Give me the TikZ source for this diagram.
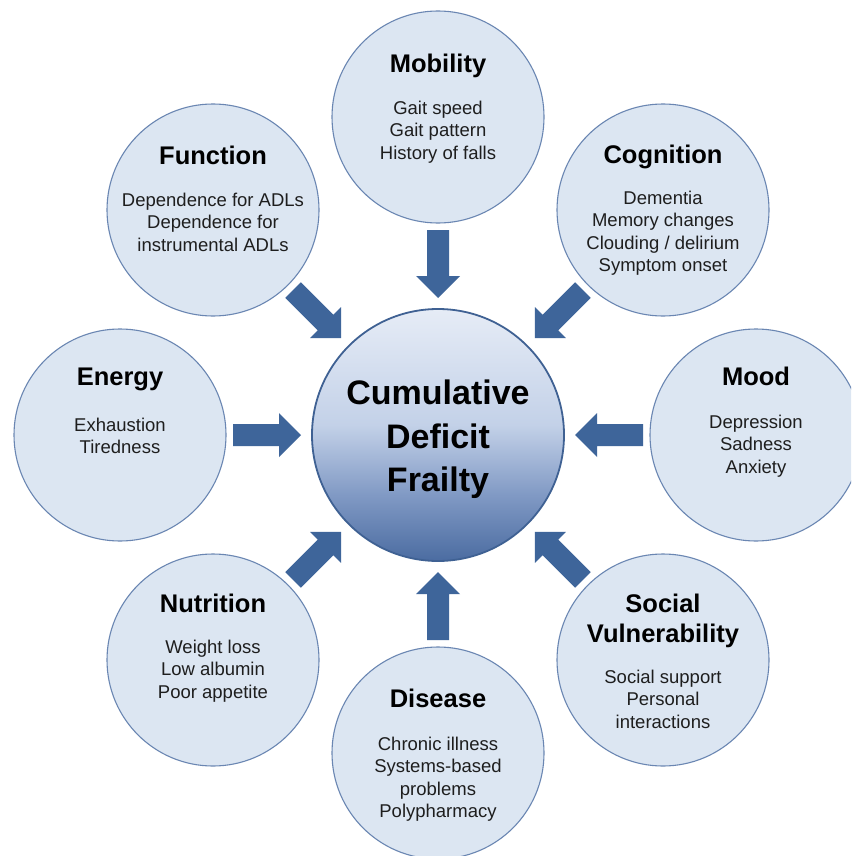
\documentclass[tikz,border=0pt]{standalone}
\usepackage{fontspec}
\setmainfont{Liberation Sans}
\usetikzlibrary{calc}
\definecolor{cfill}{HTML}{DCE6F2}
\definecolor{cline}{HTML}{6A86B2}
\definecolor{carrow}{HTML}{3E659A}
\definecolor{ctop}{HTML}{E6ECF6}
\definecolor{cmid}{HTML}{C3D1E8}
\definecolor{cdark}{HTML}{8099C4}
\definecolor{cbot}{HTML}{4B6CA1}
\definecolor{cborder}{HTML}{3F6193}
\definecolor{txtc}{HTML}{1E1E1E}
\pgfdeclareverticalshading{cdfshade}{100bp}{color(0bp)=(cbot); color(25bp)=(cbot); color(38bp)=(cdark); color(52bp)=(cmid); color(75bp)=(ctop); color(100bp)=(ctop)}
\begin{document}
\begin{tikzpicture}[x=1pt,y=-1pt,
  outer/.style={circle,fill=cfill,draw=cline,line width=1.1pt,minimum size=212pt,inner sep=0pt,outer sep=0pt},
  ttl/.style={anchor=base,font=\fontsize{25.5}{30}\selectfont\bfseries,text=black,inner sep=0pt},
  bdy/.style={anchor=base,font=\fontsize{18.5}{22.5}\selectfont,text=txtc,inner sep=0pt},
  ctr/.style={anchor=base,font=\fontsize{34}{43}\selectfont\bfseries,text=black,inner sep=0pt},
  arr/.style={fill=carrow}]
\useasboundingbox (0,0) rectangle (851,856);
\clip (0,0) rectangle (851,856);
\fill[white] (0,0) rectangle (851,856);

% central circle
\node[circle,minimum size=252pt,inner sep=0pt,shading=cdfshade,draw=cborder,line width=1.8pt] (C) at (438,435) {};
\node[ctr] (c1) at ($(C)+(0,-31)$) {Cumulative};
\node[ctr] (c2) at ($(C)+(0,13)$) {Deficit};
\node[ctr] (c3) at ($(C)+(0,56)$) {Frailty};

% outer circles
\node[outer] (mob) at (438,117) {};
\node[outer] (dis) at (438,753) {};
\node[outer] (ene) at (120,435) {};
\node[outer] (moo) at (756,435) {};
\node[outer] (fun) at (213,210) {};
\node[outer] (cog) at (663,210) {};
\node[outer] (nut) at (213,660) {};
\node[outer] (soc) at (663,660) {};

% Mobility
\node[ttl] (mob-t) at ($(mob)+(0,-44)$) {Mobility};
\foreach \s [count=\i] in {Gait speed,Gait pattern,History of falls}
  \node[bdy] (mob-\i) at ($(mob)+(0,{-3+22.5*(\i-1)})$) {\s};

% Function
\node[ttl] (fun-t) at ($(fun)+(0,-46)$) {Function};
\foreach \s [count=\i] in {Dependence for ADLs,Dependence for,instrumental ADLs}
  \node[bdy] (fun-\i) at ($(fun)+(0,{-4+22.5*(\i-1)})$) {\s};

% Cognition
\node[ttl] (cog-t) at ($(cog)+(0,-47)$) {Cognition};
\foreach \s [count=\i] in {Dementia,Memory changes,Clouding / delirium,Symptom onset}
  \node[bdy] (cog-\i) at ($(cog)+(0,{-6+22.5*(\i-1)})$) {\s};

% Energy
\node[ttl] (ene-t) at ($(ene)+(0,-50)$) {Energy};
\foreach \s [count=\i] in {Exhaustion,Tiredness}
  \node[bdy] (ene-\i) at ($(ene)+(0,{-4+22.5*(\i-1)})$) {\s};

% Mood
\node[ttl] (moo-t) at ($(moo)+(0,-50)$) {Mood};
\foreach \s [count=\i] in {Depression,Sadness,Anxiety}
  \node[bdy] (moo-\i) at ($(moo)+(0,{-7+22.5*(\i-1)})$) {\s};

% Nutrition
\node[ttl] (nut-t) at ($(nut)+(0,-48)$) {Nutrition};
\foreach \s [count=\i] in {Weight loss,Low albumin,Poor appetite}
  \node[bdy] (nut-\i) at ($(nut)+(0,{-7+22.5*(\i-1)})$) {\s};

% Social Vulnerability
\node[ttl] (soc-t1) at ($(soc)+(0,-48)$) {Social};
\node[ttl] (soc-t2) at ($(soc)+(0,-18)$) {Vulnerability};
\foreach \s [count=\i] in {Social support,Personal,interactions}
  \node[bdy] (soc-\i) at ($(soc)+(0,{23+22.5*(\i-1)})$) {\s};

% Disease
\node[ttl] (dis-t) at ($(dis)+(0,-46)$) {Disease};
\foreach \s [count=\i] in {Chronic illness,Systems-based,problems,Polypharmacy}
  \node[bdy] (dis-\i) at ($(dis)+(0,{-3+22.5*(\i-1)})$) {\s};

% block arrows from each outer circle to the centre
\foreach \o in {mob,fun,cog,ene,moo,nut,soc,dis} {
  \coordinate (s) at ($(C)!205pt!(\o)$);
  \coordinate (t) at ($(C)!137pt!(\o)$);
  \coordinate (h) at ($(t)!22pt!(s)$);
  \fill[arr] ($(s)!11pt!90:(t)$) -- ($(h)!11pt!90:(t)$) -- ($(h)!22pt!90:(t)$)
    -- (t) -- ($(h)!22pt!-90:(t)$) -- ($(h)!11pt!-90:(t)$) -- ($(s)!11pt!-90:(t)$) -- cycle;
}
\end{tikzpicture}
\end{document}
